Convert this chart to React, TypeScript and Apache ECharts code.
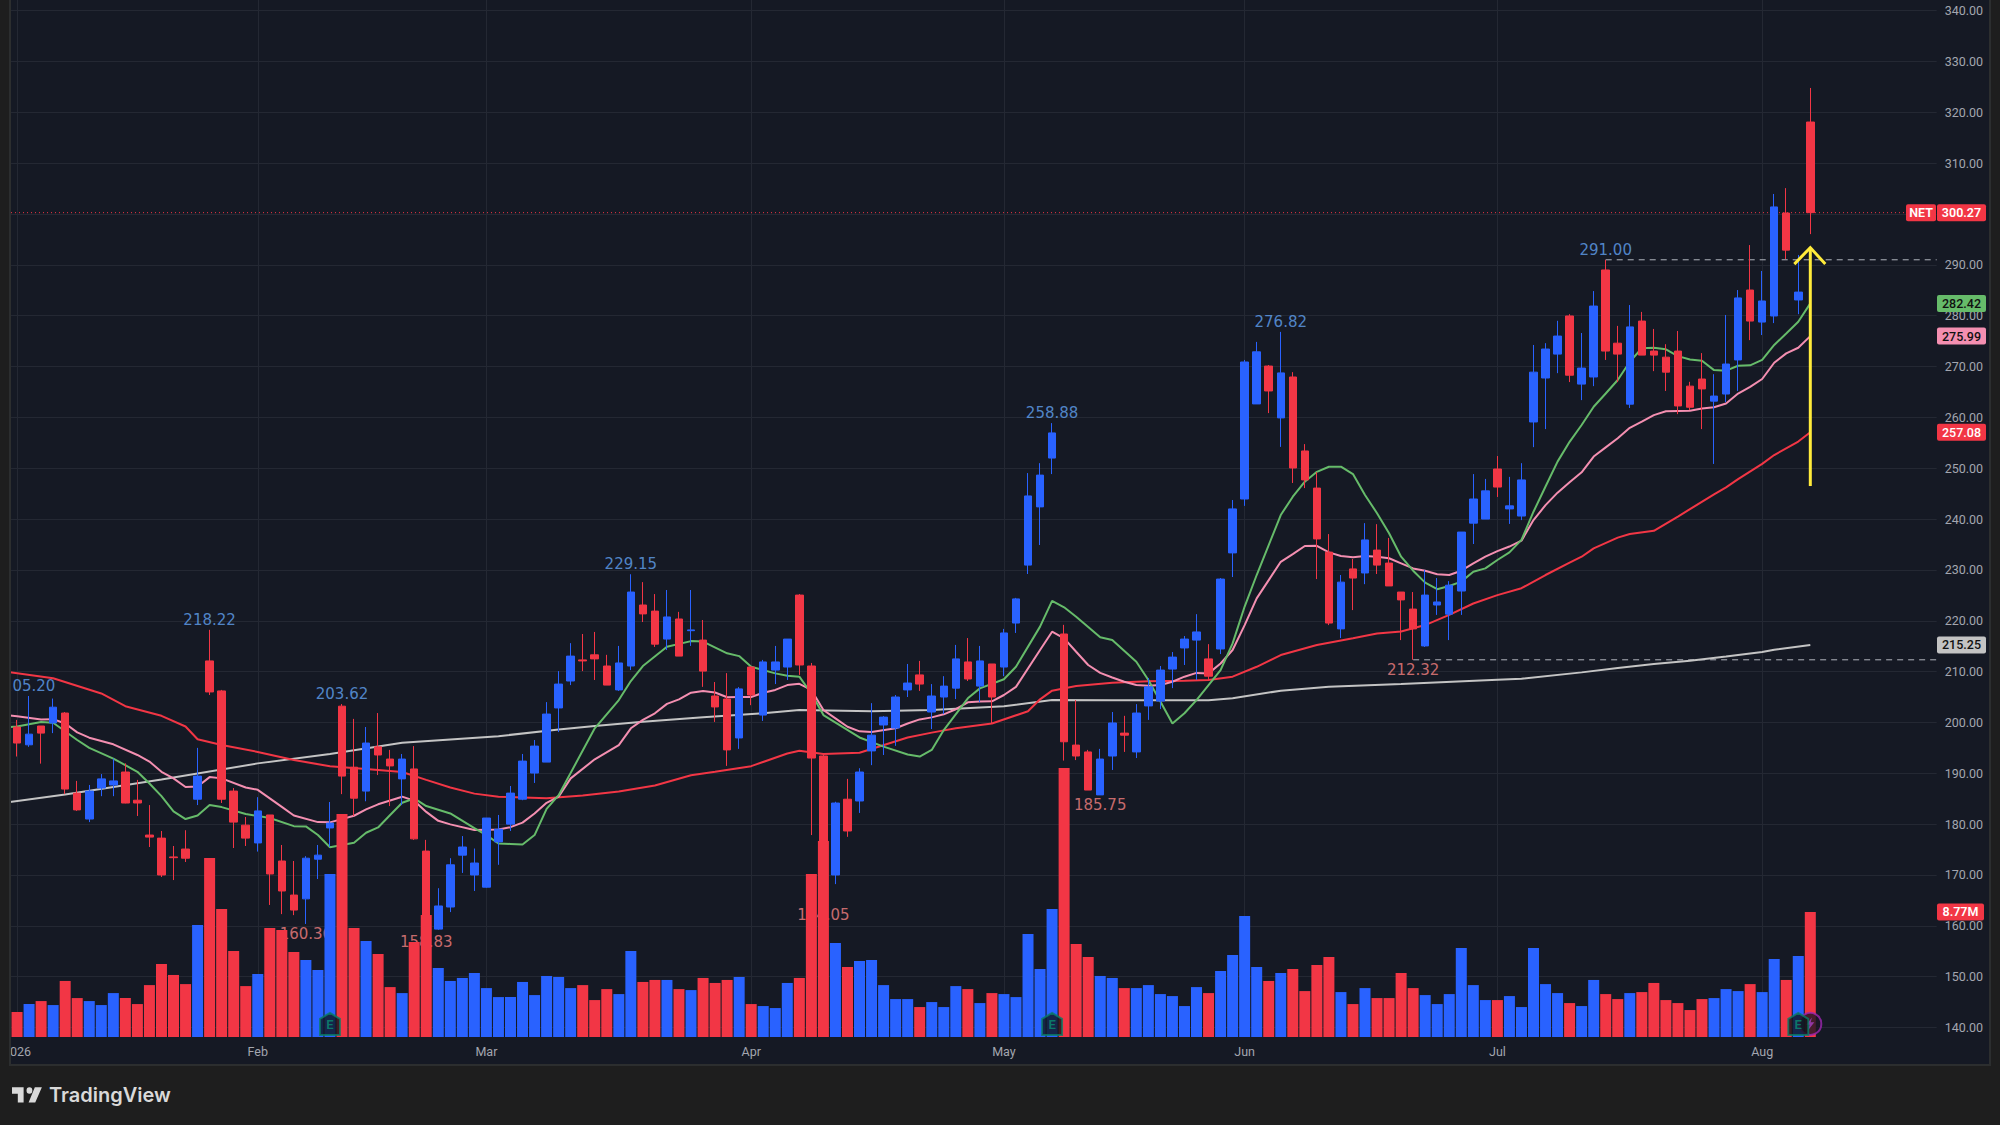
import React, { useEffect, useRef } from "react";
import * as echarts from "echarts";

// Daily candles: [open, close, low, high]
const candles: number[][] = [
  [199.1,195.95,193.3,200.5],[195.6,197.7,195.2,205.2],[199.3,197.9,191.9,199.3],[199.9,203,197.9,204.7],[201.85,186.9,185.9,202.05],
  [186.1,182.8,182.6,188.5],[181,186.5,180.4,187.7],[187.1,188.9,185.5,189.85],[187.7,188.5,185.5,192.9],[190.25,184.15,184.1,191.95],
  [184.7,184.15,181.6,188.7],[177.85,177.45,175.5,183.75],[177.25,170,169.6,178.65],[173.55,173.4,169,175.7],[175.1,173.3,172.55,178.8],
  [184.9,189.45,183.75,195],[212.1,206,205.4,218.22],[206.2,184.9,184.15,206.4],[186.5,180.4,175.3,187.1],[179.8,177.25,175.7,181.4],
  [176.3,182.6,174.6,185.3],[181.8,170.2,164.1,181.8],[172.75,166.85,162.3,175.9],[166.05,163.1,162.1,172.75],[165.3,173.3,160.36,173.7],
  [173.1,173.9,169.2,175.9],[179.25,180.2,175.55,184.35],[203.2,189.45,185.9,203.62],[191.2,185.1,181.6,200.7],[186.5,195.95,184.5,199.1],
  [195.2,193.6,189.65,201.85],[192.8,191.45,183.55,194.6],[188.9,192.8,183.75,193.8],[190.85,177.1,176.9,195.35],[174.7,161.8,158.83,176.9],
  [159.35,163.9,159.2,167.4],[163.7,172,162.7,173.3],[173.9,175.5,170.4,177.65],[170,172.35,166.85,175.2],[167.6,181.2,167.5,181.2],
  [176.5,179,172,181.8],[180,186.1,178.65,187.5],[184.9,192.4,184.7,193.8],[190.05,195.35,188.1,196.55],[192.2,201.65,192.2,204],
  [202.85,207.55,198.1,210.1],[208.15,213.05,207.35,215.6],[212.3,212.1,210.1,217.4],[213.3,212.5,208.35,217.8],[211.1,207.35,207.35,213.3],
  [206.4,211.7,206.2,215.05],[211.1,225.65,210.3,229.15],[223.1,221.35,219.75,227.6],[221.9,215.4,214.85,225.25],[216.4,220.75,214.25,226.05],
  [220.35,213.05,213.05,221.75],[218.05,218.2,215.05,226.05],[216.2,210.1,207,220.15],[205.2,203.05,200.1,207.95],[204.6,194.6,191.45,209.7],
  [196.95,206.6,194.8,206.95],[210.9,205.4,203.4,211.1],[201.45,211.9,200.3,212.3],[210.3,211.9,207.55,215.05],[210.9,216.4,208.35,216.4],
  [225.05,211.3,209.35,225.25],[211.1,193,177.85,211.7],[193.4,175,164.05,193.6],[170,184.15,168.2,184.4],[184.9,178.65,177.5,188.9],
  [184.55,190.25,182.2,191],[194.4,197.5,191.6,203.8],[199.5,201.05,193.6,201.25],[198.9,205,195.4,205.4],[206.4,207.75,205,211.5],
  [209.35,207.55,206.2,212.1],[202.05,205.2,198.7,207.55],[205,207.15,201.65,209.1],[206.75,212.5,204.6,215.25],[211.9,208.55,208.15,216.6],
  [207.15,212.1,204,215.05],[211.5,205,199.7,211.5],[210.9,217.6,209.1,218.4],[219.55,224.3,217.6,224.5],[230.95,244.55,229.2,249.05],
  [242.4,248.65,234.9,251],[252,256.95,248.85,258.88],[217.4,196.2,192.5,219.2],[195.55,193.4,192.6,204.4],[194.2,186.7,186.7,194.6],
  [185.75,192.8,185.75,194.8],[193.4,199.9,190.65,202.05],[197.9,197.5,194.2,201.3],[194.2,201.85,193,203.6],[203.25,207,200.5,208.75],
  [204.2,210.3,202.65,211.1],[210.5,212.85,206.75,213.85],[214.65,216.4,211.3,217],[216.2,217.8,208.35,221.3],[212.5,209.1,208.35,215.4],
  [214.45,228.2,213.45,228.4],[233.35,242,228.6,243.75],[243.95,270.9,242.6,271.3],[262.65,272.9,262.65,274.85],[270.1,265.2,260.85,270.3],
  [259.9,268.75,254.2,276.82],[267.95,250.05,247.1,268.9],[253.4,247.7,246.1,254.75],[246.1,236.1,228.2,249.25],[233.5,219.55,219.15,237.05],
  [218.4,227.6,216.6,229],[230.2,228.4,222.1,232.15],[229.4,235.9,227.2,239.2],[233.9,230.95,229.2,239],[231.35,226.85,226.85,236.3],
  [225.65,224.1,216.2,225.65],[222.3,218.4,212.32,225.65],[215.05,225.05,214.85,230],[223.1,223.7,221.15,228.4],[221.3,227,216.2,227.8],
  [225.85,237.45,221.15,237.45],[239.2,243.95,235.1,248.85],[240,245.55,240,247.9],[249.85,246.3,244.35,252.4],[242,242.6,239.05,248.3],
  [240.6,247.7,239.8,251],[259.1,268.9,254.15,274.25],[267.75,273.45,257.7,274.6],[272.45,276,268.7,279],[279.95,268.3,266.95,280.3],
  [266.55,269.7,263.4,276.6],[267.95,281.9,266.15,284.85],[289,273.05,271.3,291],[274.6,272.45,266.95,278],[262.6,277.8,261.85,282.1],
  [278.95,272.25,272.25,280.75],[273.05,272.25,269.1,277.4],[271.85,268.9,265.2,274.4],[273.05,262.25,260.65,277],[266.15,262,261.45,267],
  [267.55,265.6,257.7,272.65],[263.2,264.2,250.85,268.5],[264.6,270.5,263,280.15],[271.3,283.5,265.2,285.05],[285.05,278.95,275.2,293.9],
  [278.75,282.9,276.2,288.8],[279.95,301.4,278.55,303.95],[300.2,292.9,291.15,305.1],[283.1,284.65,280.3,291.95],[318.1,300.27,296.05,324.8],
];

// Volume in millions of shares
const volumes: number[] = [
  1.75,2.31,2.52,2.24,3.93,2.73,2.52,2.24,3.08,2.73,2.31,3.64,5.12,4.35,3.71,7.85,12.55,8.97,6.03,3.57,
  4.42,7.64,7.5,5.96,5.4,4.7,11.43,15.64,7.64,6.73,5.82,3.5,3.08,6.66,8.55,4.84,3.93,4.14,4.49,3.43,
  2.8,2.8,3.86,2.94,4.28,4.21,3.43,3.64,2.59,3.36,3.01,6.03,3.86,4,4,3.36,3.29,4.14,3.79,4,
  4.21,2.31,2.17,2.03,3.79,4.14,11.43,13.74,6.59,4.91,5.33,5.4,3.64,2.66,2.66,2.1,2.45,2.1,3.57,3.36,
  2.38,3.08,3.01,2.8,7.22,4.77,8.97,18.86,6.52,5.61,4.28,4.14,3.43,3.43,3.64,3.01,2.87,2.17,3.5,3.08,
  4.63,5.75,8.48,4.91,3.93,4.49,4.77,3.22,5.05,5.61,3.15,2.31,3.43,2.73,2.73,4.49,3.43,2.94,2.31,3.01,
  6.24,3.64,2.59,2.59,2.87,2.1,6.24,3.71,3.08,2.38,2.17,4,3.01,2.66,3.08,3.15,3.79,2.59,2.38,1.89,
  2.66,2.73,3.36,3.22,3.71,3.15,5.47,4,5.68,8.77,
];

// Moving averages, read at the candles marked: [candle index, price]
const maGreen: number[][] = [
  [-1,199],[0,199.2],[2,200.1],[3,199.95],[5,196.55],[6,195],[8,192.9],[10,190.3],[11,188],[12,185.5],[13,182.5],[14,181],[15,181.7],[16,183.75],[17,183.35],[19,182],[21,181.2],[23,179.6],[24,179.55],[25,177.85],[26,175.45],[27,175.9],[28,176.35],[29,178.3],[30,179.35],[31,181.8],[32,184.2],[33,185.05],[34,183.55],[36,182.1],[38,179.2],[39,177.85],[40,176.2],[41,176.1],[42,176],[43,177.85],[44,183],[45,185.7],[48,198.85],[50,204.4],[51,208.15],[52,211.1],[54,214.9],[56,216],[57,215.9],[59,213.6],[60,213.05],[61,210.95],[63,209.65],[64,209.2],[65,209],[66,205.7],[67,201.45],[70,197.05],[72,195.25],[74,193.7],[75,193.3],[76,194.6],[77,198.5],[79,204.75],[80,206.7],[82,208.5],[83,210.95],[85,218.85],[86,223.9],[87,222.65],[88,220.8],[90,216.75],[91,216.2],[93,211.95],[94,208.35],[95,204.1],[96,199.8],[97,201.8],[98,204.4],[99,207.35],[100,210.3],[101,215.55],[102,222.8],[103,229],[105,240.8],[106,244.4],[107,247.35],[108,249.3],[109,250.3],[110,250.3],[111,248.85],[112,244.75],[113,241.15],[114,237.2],[115,232.6],[116,229.85],[117,227.5],[118,226.2],[119,226.85],[120,227.7],[121,229.65],[122,230.3],[123,231.95],[124,233.45],[125,235.9],[126,241.45],[127,246.4],[128,251.3],[129,255.2],[130,258.5],[131,262.1],[132,264.7],[133,267.35],[134,270.95],[135,273.6],[136,273.7],[137,273.4],[138,272.05],[139,271.4],[140,271.15],[141,269.3],[142,269.2],[143,270.15],[144,270.25],[145,271.3],[146,274.25],[147,276.5],[148,278.8],[149,282.42],
];
const maPink: number[][] = [
  [-1,201.5],[0,201.2],[2,200.6],[3,200.65],[4,199.8],[5,198.05],[6,197],[8,195.7],[10,193.6],[11,192.3],[12,190.3],[13,189],[14,187.3],[15,187.4],[16,189.25],[17,189],[19,187.2],[20,186.75],[22,183.4],[23,181.7],[25,180.4],[26,180.35],[28,181.65],[29,182.9],[30,183.9],[32,185.4],[33,184.6],[34,182.4],[35,180.65],[36,179.95],[38,178.85],[40,178.95],[41,179.4],[42,180.3],[43,182.1],[44,184.2],[45,185.4],[46,189],[48,192.75],[50,195.55],[51,198.85],[52,200.5],[53,201.8],[54,203.65],[55,204.55],[56,205.85],[57,206.2],[58,205.9],[59,204.95],[60,205],[61,205],[62,205.85],[63,206.4],[64,207.35],[65,207.6],[66,206.4],[67,202.45],[68,200.8],[69,199.15],[70,198.25],[71,198.1],[73,198.85],[74,199.8],[75,200.6],[76,201],[77,201.6],[78,202.6],[79,203.95],[80,204.1],[81,204.15],[82,205.4],[83,207],[85,214.25],[86,217.85],[87,216.55],[88,213.9],[89,211.3],[90,209.75],[91,208.85],[92,208],[93,207.35],[94,207.2],[95,207.35],[96,208],[97,209],[98,209.75],[99,209.65],[100,211.6],[101,214.25],[102,219.15],[103,224.4],[105,231.6],[106,233.1],[107,234.7],[108,234.75],[109,233.45],[110,232.75],[111,232.5],[112,232.75],[113,232.6],[114,232.3],[115,231.3],[116,230.3],[117,229.85],[118,229.15],[119,229],[120,229.85],[121,231.3],[122,232.6],[123,233.7],[124,234.6],[125,235.75],[126,239.8],[127,242.75],[128,245.2],[129,247.25],[130,249.2],[131,252.3],[132,254.1],[133,255.9],[134,257.95],[135,259.15],[136,260.45],[137,261.2],[138,261.25],[139,261.3],[140,261.75],[141,262],[142,262.75],[143,264.7],[144,266],[145,267.55],[146,270.75],[147,272.6],[148,273.7],[149,275.99],
];
const maRed: number[][] = [
  [-1,210],[3,208.7],[7,205.7],[9,203.2],[12,201.3],[14,199.2],[15,196.7],[17,195.55],[20,194.2],[23,192.6],[26,191.4],[29,190.85],[32,190.25],[34,188.7],[36,187.2],[38,186],[40,185.4],[44,185.07],[47,185.65],[50,186.4],[53,187.6],[56,189.6],[58,190.3],[61,191.4],[64,193.9],[65,194.45],[67,193.8],[70,194.05],[74,197.05],[76,198],[78,198.85],[81,199.8],[84,202.2],[85,204.55],[86,206.25],[88,207.15],[91,207.8],[94,208.1],[97,208.2],[99,208.35],[101,209],[103,210.95],[105,213.25],[108,215.25],[111,216.55],[113,217.5],[115,217.9],[117,219.15],[119,221.15],[121,223.4],[123,225.05],[125,226.4],[127,229],[129,231.45],[130,232.6],[131,234.25],[133,236.35],[134,237.05],[136,237.7],[138,240.5],[139,241.95],[141,244.85],[142,246.25],[143,247.85],[145,250.85],[146,252.6],[148,255.25],[149,257.08],
];
const maWhite: number[][] = [
  [-1,184.2],[4,185.85],[12,188.8],[20,191.95],[26,193.8],[32,196],[40,197.3],[45,198.6],[48,199.3],[52,200.15],[57,201],[62,201.8],[65,202.45],[71,202.2],[76,202.45],[82,203.2],[86,204.4],[91,204.35],[99,204.35],[101,204.75],[105,206.25],[109,207],[115,207.55],[123,208.4],[125,208.6],[130,209.85],[133,210.7],[136,211.5],[139,212.15],[142,212.95],[145,213.85],[146,214.3],[149,215.25],
];

const priceTicks = [140,150,160,170,180,190,200,210,220,230,240,250,260,270,280,290,300,310,320,330,340];
const monthStarts: [number, string][] = [[0,"2026"],[20,"Feb"],[39,"Mar"],[61,"Apr"],[82,"May"],[102,"Jun"],[123,"Jul"],[145,"Aug"]];
const highLabels: number[][] = [[1,205.2],[16,218.22],[27,203.62],[51,229.15],[86,258.88],[105,276.82],[132,291]];
const lowLabels: number[][] = [[24,160.36],[34,158.83],[67,164.05],[90,185.75],[116,212.32]];
const levelLines: number[][] = [[132,291],[116,212.32]];
const earningsBadges: number[][] = [[26,140.7],[86,140.7],[148,140.7]];
const dividendBadge: number[][] = [[149,140.7]];
const arrow: number[][] = [[149,246.5,293.4]];
const lastPrice = 300.27;
const lastVolume = 8.77;
const priceTags: { p: number; bg: string; fg: string }[] = [
  { p: 282.42, bg: "#66bb6a", fg: "#111" },
  { p: 275.99, bg: "#f48fb1", fg: "#111" },
  { p: 257.08, bg: "#f23645", fg: "#fff" },
  { p: 215.25, bg: "#c3c3c3", fg: "#111" },
];

const SLOT_COUNT = 160;
const categories: string[] = Array.from({ length: SLOT_COUNT }, (_, i) => {
  const m = monthStarts.find((s) => s[0] === i);
  return m ? m[1] : "";
});

const BLUE = "#2962ff";
const RED = "#f23645";
const GRID = "#242833";
const AXIS_TEXT = "#a3a6af";
const FONT = "Roboto, sans-serif";
const TV_LOGO = "M14 6H0v7h7v9h7V6zm14 16h-8l7.5-16H36l-8 16zm-7-9a3.5 3.5 0 1 0 0-7 3.5 3.5 0 0 0 0 7z";
const HOUSE = "path://M10 0L20 6V22H0V6Z";
const BOLT = "path://M7 0L0 9H4L2 16L10 6H5.5Z";

let logoRegistered = false;
function registerLogo() {
  if (logoRegistered) return;
  echarts.graphic.registerShape("tvlogo", echarts.graphic.extendPath(TV_LOGO, {}) as any);
  logoRegistered = true;
}

function tag(x: number, y: number, w: number, text: string, bg: string, fg: string, bold = false) {
  return {
    type: "group",
    children: [
      { type: "rect", shape: { x, y: y - 8.5, width: w, height: 17, r: 2 }, style: { fill: bg } },
      {
        type: "text",
        style: {
          x: x + w / 2, y, text, fill: fg, align: "center", verticalAlign: "middle",
          fontFamily: FONT, fontSize: 12.5, fontWeight: bold ? 600 : 500,
        },
      },
    ],
  };
}

export default function App() {
  const ref = useRef<HTMLDivElement>(null);
  useEffect(() => {
    registerLogo();
    document.body.style.margin = "0";
    document.body.style.background = "#1e1e1e";
    const chart = echarts.init(ref.current!, undefined, { renderer: "svg" });
    const option: any = {
      animation: false,
      backgroundColor: "#1e1e1e",
      grid: { left: 10.28, top: 0, width: 1926.4, height: 1037, containLabel: false },
      tooltip: { show: false },
      xAxis: {
        type: "category",
        data: categories,
        boundaryGap: true,
        axisLine: { show: false },
        axisTick: { show: false, alignWithLabel: true },
        axisLabel: { interval: 0, color: AXIS_TEXT, fontSize: 12.5, fontFamily: FONT, margin: 8, hideOverlap: false },
        splitLine: {
          show: true, alignWithLabel: true,
          interval: (_: number, v: string) => v !== "",
          lineStyle: { color: GRID, width: 1 },
        },
      },
      yAxis: [
        {
          type: "value", position: "right", min: 138.13, max: 342.1, scale: true,
          axisLine: { show: false },
          axisTick: { show: false, customValues: priceTicks },
          axisLabel: {
            customValues: priceTicks, color: AXIS_TEXT, fontSize: 12.5, fontFamily: FONT, margin: 8,
            formatter: (v: number) => v.toFixed(2), showMinLabel: true, showMaxLabel: true,
          },
          splitLine: { show: true, lineStyle: { color: GRID, width: 1 } },
        },
        { type: "value", show: false, min: 0, max: 72.72, splitLine: { show: false } },
      ],
      graphic: [
        { type: "rect", z: -20, shape: { x: 9, y: -4, width: 1982, height: 1070 }, style: { fill: "#2c2e2f" } },
        { type: "rect", z: -19, shape: { x: 11, y: 0, width: 1978, height: 1064 }, style: { fill: "#151924" } },
        { type: "rect", z: 50, shape: { x: 0, y: 0, width: 9, height: 1125 }, style: { fill: "#1e1e1e" } },
        { type: "rect", z: 50, shape: { x: 9, y: 0, width: 2, height: 1066 }, style: { fill: "#2c2e2f" } },
        { type: "tvlogo", z: 50, x: 12, y: 1081.5, scaleX: 0.83, scaleY: 0.95, style: { fill: "#d9d9d9" } },
        {
          type: "text", z: 50, x: 49, y: 1095,
          style: { text: "TradingView", fill: "#d9d9d9", fontFamily: "Inter, sans-serif", fontWeight: 600, fontSize: 20, verticalAlign: "middle" },
        },
      ],
      series: [
        {
          name: "highs", type: "scatter", z: 1, data: highLabels, symbolSize: 1,
          itemStyle: { color: "transparent" },
          label: {
            show: true, position: "top", distance: 2, color: "#62a3f2",
            fontFamily: "DejaVu Sans", fontSize: 15, formatter: (p: any) => p.value[1].toFixed(2),
          },
        },
        {
          name: "lows", type: "scatter", z: 1, data: lowLabels, symbolSize: 1,
          itemStyle: { color: "transparent" },
          label: {
            show: true, position: "bottom", distance: 2, color: "#f58282",
            fontFamily: "DejaVu Sans", fontSize: 15, formatter: (p: any) => p.value[1].toFixed(2),
          },
        },
        {
          name: "levels", type: "custom", z: 1, data: levelLines, clip: false,
          renderItem: (params: any, api: any) => {
            const a = api.coord([api.value(0), api.value(1)]);
            const right = params.coordSys.x + params.coordSys.width;
            return {
              type: "line",
              shape: { x1: a[0], y1: a[1], x2: right, y2: a[1] },
              style: { stroke: "#b2b5be", lineWidth: 1, lineDash: [6, 5] },
            };
          },
        },
        {
          name: "last", type: "custom", z: 1, data: [[0, lastPrice]], clip: false,
          renderItem: (params: any, api: any) => {
            const y = api.coord([0, api.value(1)])[1];
            return {
              type: "line",
              shape: { x1: params.coordSys.x, y1: y, x2: params.coordSys.x + params.coordSys.width, y2: y },
              style: { stroke: RED, lineWidth: 1, lineDash: [1, 3] },
            };
          },
        },
        ...[
          { name: "MA200", data: maWhite, color: "#c4c4c4" },
          { name: "MA50", data: maRed, color: RED },
          { name: "MA21", data: maPink, color: "#f48fb1" },
          { name: "MA10", data: maGreen, color: "#66bb6a" },
        ].map((s) => ({
          name: s.name, type: "line", z: 2, data: s.data, symbol: "none", clip: true,
          lineStyle: { color: s.color, width: 2 },
        })),
        {
          name: "NET", type: "candlestick", z: 3, data: candles, barWidth: 8,
          itemStyle: { color: BLUE, color0: RED, borderColor: BLUE, borderColor0: RED, borderWidth: 1 },
        },
        {
          name: "Volume", type: "bar", z: 4, yAxisIndex: 1, barWidth: 11,
          data: volumes.map((v, i) => ({
            value: v,
            itemStyle: { color: candles[i][1] >= candles[i][0] ? BLUE : RED },
          })),
        },
        {
          name: "dividend", type: "scatter", z: 5, data: dividendBadge, symbol: "circle", symbolSize: 22,
          itemStyle: { color: "#1a1725", borderColor: "#9c27b0", borderWidth: 2 },
        },
        {
          name: "bolt", type: "scatter", z: 5.5, data: dividendBadge, symbol: BOLT, symbolSize: [8, 13],
          itemStyle: { color: "#a63fc4" },
        },
        {
          name: "earnings", type: "scatter", z: 6, data: earningsBadges, symbol: HOUSE, symbolSize: [20, 22],
          itemStyle: { color: "#10171b", borderColor: "#0a7d66", borderWidth: 2 },
          label: {
            show: true, position: "inside", formatter: "E", color: "#0a8f72",
            fontFamily: FONT, fontSize: 13, fontWeight: 600, offset: [0, 1],
          },
        },
        {
          name: "arrow", type: "custom", z: 7, data: arrow, clip: false,
          renderItem: (_: any, api: any) => {
            const base = api.coord([api.value(0), api.value(1)]);
            const tip = api.coord([api.value(0), api.value(2)]);
            return {
              type: "group",
              children: [
                { type: "line", shape: { x1: base[0], y1: base[1], x2: tip[0], y2: tip[1] }, style: { stroke: "#ffeb3b", lineWidth: 3 } },
                {
                  type: "polyline",
                  shape: { points: [[tip[0] - 16, tip[1] + 16.5], [tip[0], tip[1]], [tip[0] + 15, tip[1] + 16.5]] },
                  style: { stroke: "#ffeb3b", lineWidth: 3, fill: "none" },
                },
              ],
            };
          },
        },
        {
          name: "priceTags", type: "custom", z: 8, data: priceTags.map((t) => [0, t.p]), clip: false,
          renderItem: (params: any, api: any) => {
            const t = priceTags[params.dataIndex];
            const y = api.coord([0, api.value(1)])[1];
            return tag(1937, y, 49, t.p.toFixed(2), t.bg, t.fg);
          },
        },
        {
          name: "lastTag", type: "custom", z: 8, data: [[0, lastPrice]], clip: false,
          renderItem: (_: any, api: any) => {
            const y = api.coord([0, api.value(1)])[1];
            return {
              type: "group",
              children: [tag(1906, y, 30, "NET", RED, "#fff", true), tag(1937, y, 49, lastPrice.toFixed(2), RED, "#fff", true)],
            };
          },
        },
        {
          name: "volumeTag", type: "custom", z: 8, yAxisIndex: 1, data: [[0, lastVolume]], clip: false,
          renderItem: (_: any, api: any) => {
            const y = api.coord([0, api.value(1)])[1];
            return tag(1937, y, 47, lastVolume.toFixed(2) + "M", RED, "#fff", true);
          },
        },
      ],
    };
    chart.setOption(option);
    return () => chart.dispose();
  }, []);
  return (
    <div style={{ position: "fixed", left: 0, top: 0, width: 2000, height: 1125, overflow: "hidden" }}>
      <div ref={ref} style={{ width: 2000, height: 1125 }} />
    </div>
  );
}
